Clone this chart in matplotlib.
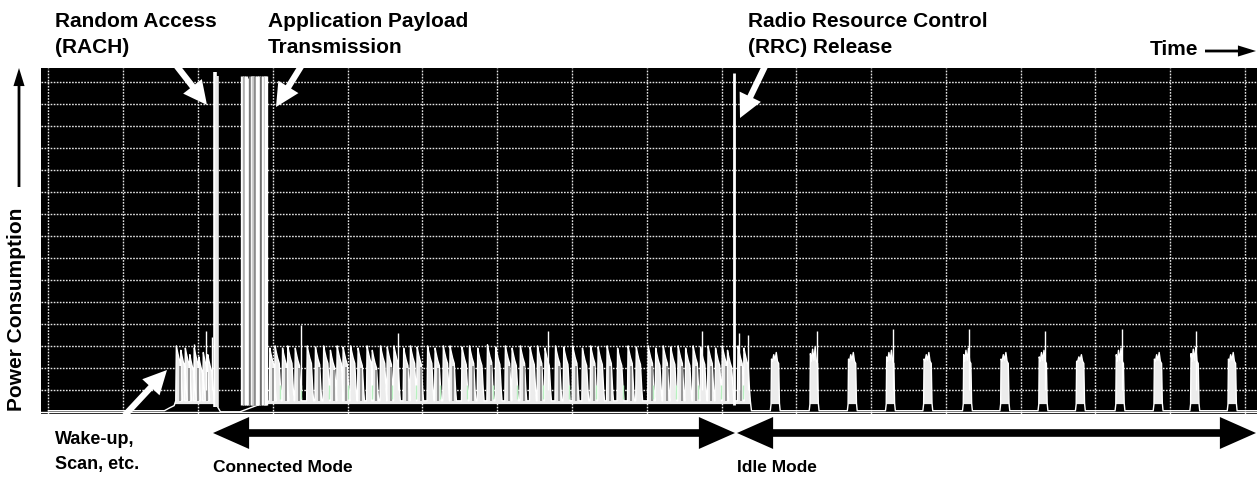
import numpy as np
import matplotlib
matplotlib.use("Agg")
import matplotlib.pyplot as plt
from matplotlib.patches import FancyArrowPatch
from matplotlib.transforms import IdentityTransform

# ---------------- data (time and power in oscilloscope grid divisions) -------------
floor_t = [0.0, 1.55, 1.62, 1.68]
floor_p = [0.05, 0.05, 0.18, 0.28]

wake_t = [1.71, 1.77, 1.83, 1.89, 1.95, 2.01, 2.07, 2.13]
wake_peak = [3.0, 2.8, 2.9, 2.6, 2.9, 2.5, 2.7, 2.6]
wake_tall_t = [1.94, 2.11, 2.19]
wake_tall_p = [3.1, 3.7, 3.4]

rach_t = [2.22, 2.26]
rach_p = [15.45, 15.3]
gap_t = [2.30, 2.56]
gap_p = [0.0, 0.0]

payload_t = [2.59, 2.615, 2.64, 2.665, 2.69, 2.715, 2.74, 2.765, 2.79, 2.815,
             2.84, 2.865, 2.89, 2.915]
payload_p = [15.3, 15.3, 15.3, 15.2, 15.3, 15.3, 15.3, 15.3, 15.3, 15.3,
             15.3, 15.3, 15.3, 15.3]

conn_t = [2.96, 3.03, 3.13, 3.20, 3.30, 3.46, 3.57, 3.68, 3.77, 3.86, 3.94, 4.04,
          4.14, 4.26, 4.33, 4.44, 4.53, 4.62, 4.75, 4.84, 4.93, 5.07, 5.17, 5.28,
          5.37, 5.53, 5.63, 5.74, 5.87, 5.98, 6.11, 6.20, 6.31, 6.44, 6.54, 6.64,
          6.78, 6.89, 7.01, 7.14, 7.25, 7.35, 7.47, 7.61, 7.75, 7.86, 8.02, 8.12,
          8.22, 8.32, 8.42, 8.52, 8.62, 8.72, 8.82, 8.92, 9.01, 9.08, 9.22, 9.30]
conn_peak = [2.9, 3.0, 2.9, 3.0, 2.9, 3.0, 2.95, 3.0, 2.8, 3.0, 2.95, 3.0,
             2.9, 3.0, 2.8, 3.0, 2.95, 3.0, 2.9, 3.0, 2.95, 3.0, 2.9, 3.0,
             3.0, 2.95, 3.0, 2.9, 3.05, 2.95, 3.0, 2.9, 3.0, 2.95, 3.0, 2.9,
             3.0, 2.95, 3.0, 2.9, 3.0, 2.95, 3.0, 2.9, 3.0, 2.95, 3.0, 2.9,
             3.0, 2.95, 3.0, 2.9, 3.0, 2.95, 3.0, 2.9, 3.0, 2.8, 3.0, 2.9]
conn_tall_t = [3.37, 4.67, 6.68, 8.74, 9.24, 9.36]
conn_tall_p = [3.95, 3.6, 3.7, 3.7, 3.6, 3.5]

rrc_t = [9.17]
rrc_p = [15.4]

idle_t = [9.72, 10.24, 10.75, 11.26, 11.76, 12.29, 12.79, 13.30, 13.80,
          14.33, 14.84, 15.33, 15.83]
idle_peak = [2.7, 2.95, 2.7, 2.8, 2.7, 2.9, 2.7, 2.8, 2.6, 2.9, 2.7, 2.95, 2.7]
idle_tall_t = [10.27, 11.29, 12.31, 13.32, 14.35, 15.35]
idle_tall_p = [3.7, 3.75, 3.75, 3.7, 3.75, 3.7]
end_t = [9.40, 16.2]
end_p = [0.05, 0.05]

# ---------------- build the trace from the burst lists ------------------------------
spike_dt = [-0.008, 0.0, 0.014, 0.034, 0.056, 0.074, 0.085]
idle_dt = [-0.068, -0.058, -0.052, -0.038, -0.022, -0.005, 0.012, 0.028, 0.044, 0.054, 0.064]


def spike(t, pk):
    return ([t + d for d in spike_dt],
            [0.5, pk, pk - 0.25, pk - 0.55, pk - 0.8, 1.0, 0.5])


xs, ys = list(floor_t), list(floor_p)
for t, pk in zip(wake_t, wake_peak):
    a, b = spike(t, pk)
    xs += a
    ys += b
xs += gap_t
ys += gap_p
for t, pk in zip(conn_t, conn_peak):
    a, b = spike(t, pk)
    xs += a
    ys += b
xs += [end_t[0]]
ys += [end_p[0]]
for t, pk in zip(idle_t, idle_peak):
    xs += [t + d for d in idle_dt]
    ys += [0.05, 0.35, pk - 0.3, 2.3, pk - 0.1, 2.35, pk, 2.3, 2.2, 0.4, 0.05]
xs += [end_t[1]]
ys += [end_p[1]]
xs = np.array(xs)
ys = np.array(ys)

# ---------------- figure -------------------------------------------------------------
W, H = 1257, 479
fig = plt.figure(figsize=(W / 100, H / 100), dpi=100)
ax = fig.add_axes([41 / W, (H - 414) / H, (W - 41) / W, (414 - 68) / H])
ax.set_facecolor("black")
ax.set_xlim(-0.1, 16.16)
ax.set_ylim(-0.1, 15.65)
ax.set_xticks(range(0, 17))
ax.set_yticks(range(1, 16))
ax.tick_params(length=0, labelbottom=False, labelleft=False)
for s in ax.spines.values():
    s.set_visible(False)
ax.set_axisbelow(True)
ax.grid(True, color="#e6e6e6", linestyle=(0, (1.2, 1.0)), linewidth=1.0)

base = 0.35
ax.fill_between(xs, base, ys, where=ys > base, interpolate=True,
                color="#ececec", lw=0, zorder=2)
ax.plot(xs, ys, color="white", lw=1.0, zorder=3)
streak_t = [t + 0.045 for t in conn_t[::2]] + [t + 0.045 for t in wake_t[::2]]
streak_top = [p - 0.9 for p in conn_peak[::2]] + [p - 0.9 for p in wake_peak[::2]]
ax.vlines(streak_t, 0.5, streak_top, color="#8a8a8a", lw=1.2, zorder=3)
ax.vlines([t + 0.07 for t in conn_t[1::3]], 0.6, 1.2, color="#b8f0c0", lw=1.0, zorder=3)
ax.vlines(wake_tall_t + conn_tall_t + idle_tall_t, 1.0,
          wake_tall_p + conn_tall_p + idle_tall_p, color="white", lw=1.0, zorder=4)

pay_cols = ["white", "#b0b0b0", "white", "white", "#7a7a7a", "white", "#d0d0d0",
            "#8c8c8c", "white", "white", "#707070", "white", "#c8c8c8", "white"]
ax.vlines(payload_t, 0.3, payload_p, colors=pay_cols, lw=2.4, zorder=4)
ax.vlines(rach_t, 0.2, rach_p, colors=["white", "#e8e8e8"], lw=2.6, zorder=4)
ax.vlines(rrc_t, 0.3, rrc_p, colors="white", lw=2.0, zorder=4)
ax.axhline(0.0, color="white", lw=1.0, zorder=2)

# ---------------- annotations --------------------------------------------------------
FONT = "Liberation Sans"


def ftext(x, y_img, s, size=15, **kw):
    fig.text(x / W, (H - y_img) / H, s, fontsize=size, fontweight="bold",
             family=FONT, va="baseline", **kw)


ftext(55, 27, "Random Access")
ftext(55, 53, "(RACH)")
ftext(268, 27, "Application Payload")
ftext(268, 53, "Transmission")
ftext(748, 27, "Radio Resource Control")
ftext(748, 53, "(RRC) Release")
ftext(1150, 55, "Time")
ftext(55, 444, "Wake-up,", size=13)
ftext(55, 469, "Scan, etc.", size=13)
ftext(213, 472, "Connected Mode", size=12.5)
ftext(737, 472, "Idle Mode", size=12.5)
fig.text(17 / W, (H - 309) / H, "Power Consumption", rotation=90, fontsize=15,
         fontweight="bold", family=FONT, ha="center", va="center")


def arrow(p0, p1, style, color, z=5):
    a = FancyArrowPatch((p0[0], H - p0[1]), (p1[0], H - p1[1]), arrowstyle=style,
                        mutation_scale=10, color=color, lw=0, shrinkA=0, shrinkB=0,
                        transform=IdentityTransform(), zorder=z)
    fig.add_artist(a)


white_style = "simple,head_width=1.7,head_length=1.7,tail_width=0.45"
arrow((172, 60), (207, 105), white_style, "white")
arrow((305, 60), (276, 107), white_style, "white")
arrow((768, 60), (740, 118), white_style, "white")
arrow((125, 415), (167, 370), white_style, "white")

thin_style = "simple,head_width=0.8,head_length=1.3,tail_width=0.2"
arrow((1205, 51), (1256, 51), thin_style, "black")
arrow((19, 187), (19, 68), thin_style, "black")

dbl_style = "simple,head_width=2.3,head_length=2.6,tail_width=0.55"
arrow((474, 433), (213, 433), dbl_style, "black")
arrow((474, 433), (735, 433), dbl_style, "black")
arrow((996, 433), (737, 433), dbl_style, "black")
arrow((996, 433), (1256, 433), dbl_style, "black")

fig.savefig("out.png", dpi=100, facecolor="white")
